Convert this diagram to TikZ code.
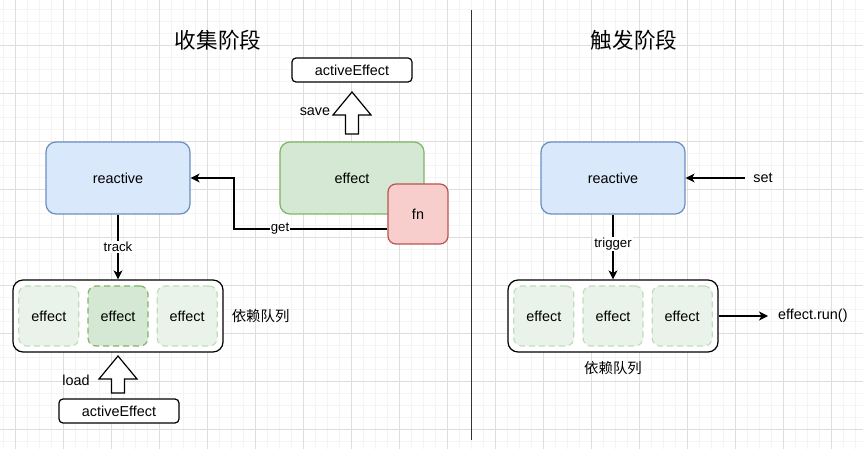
\documentclass[tikz,border=0pt]{standalone}
\usepackage{fontspec}
\setmainfont{Liberation Sans}
\newfontfamily\cjk{Noto Sans CJK SC}
\usetikzlibrary{arrows.meta,positioning,calc}
\definecolor{gridminor}{RGB}{244,244,244}
\definecolor{gridmajor}{RGB}{222,222,222}
\definecolor{reactfill}{HTML}{DAE8FC}
\definecolor{reactline}{HTML}{6C8EBF}
\definecolor{efffill}{HTML}{D5E8D4}
\definecolor{effline}{HTML}{82B366}
\definecolor{fnfill}{HTML}{F8CECC}
\definecolor{fnline}{HTML}{B85450}
\definecolor{depfill}{HTML}{EAF3E9}
\definecolor{depline}{HTML}{C0DDBB}
% hollow block arrow pointing up: x, foot y, tip y
\newcommand{\hollowup}[3]{%
  \draw[hollow] (#1-6.5,#2) -- (#1-6.5,#3+23) -- (#1-19,#3+23) -- (#1,#3)
    -- (#1+19,#3+23) -- (#1+6.5,#3+23) -- (#1+6.5,#2) -- cycle;}

\begin{document}
\begin{tikzpicture}[x=1pt,y=-1pt,
  box/.style={rectangle,rounded corners=10pt,draw,line width=1.2pt,minimum width=144pt,minimum height=72pt,inner sep=0pt,font=\fontsize{14.4}{17}\selectfont},
  react/.style={box,fill=reactfill,draw=reactline},
  eff/.style={box,fill=efffill,draw=effline},
  fnbox/.style={box,fill=fnfill,draw=fnline,minimum width=60pt,minimum height=60pt,rounded corners=8pt},
  queue/.style={box,draw=black,fill=white,minimum width=210pt},
  dep/.style={box,minimum width=60pt,minimum height=60pt,rounded corners=8pt,dash pattern=on 6pt off 4pt,fill=depfill,draw=depline},
  active/.style={box,fill=white,draw=black,minimum width=120pt,minimum height=24pt,rounded corners=4pt},
  txt/.style={inner sep=0pt,font=\fontsize{14.4}{17}\selectfont},
  cjktxt/.style={inner sep=0pt,font=\cjk\fontsize{14.4}{17}\selectfont},
  lbl/.style={fill=white,inner sep=1pt,font=\fontsize{13.2}{15}\selectfont},
  title/.style={inner sep=0pt,font=\cjk\fontsize{21.6}{25}\selectfont},
  arr/.style={line width=1.2pt,-{Stealth[length=9pt,width=9pt,inset=2.5pt]}},
  hollow/.style={line width=1.2pt,fill=white,line join=miter}]
\useasboundingbox (0,0) rectangle (863,449);
% grid
\foreach \gx in {3,15,...,863} \draw[gridminor,line width=0.8pt] (\gx,0) -- (\gx,449);
\foreach \gy in {9,21,...,449} \draw[gridminor,line width=0.8pt] (0,\gy) -- (863,\gy);
\foreach \gx in {15,63,...,863} \draw[gridmajor,line width=0.8pt] (\gx,0) -- (\gx,449);
\foreach \gy in {45,93,...,449} \draw[gridmajor,line width=0.8pt] (0,\gy) -- (863,\gy);
\draw[black!80,line width=1.2pt] (471.5,10) -- (471.5,440);

% collect phase
\node[title] (tCollect) at (218,40) {收集阶段};
\node[active] (saved) at (352,70) {activeEffect};
\node[react] (reactL) at (118,178) {reactive};
\node[eff] (effect) at (352,178) {effect};
\node[fnbox] (fn) at (418,214) {fn};
\node[queue] (queueL) at (118,316) {};
\node[dep,fill=efffill,draw=effline] (depL2) at (118,316) {effect};
\node[dep,left=8pt of depL2] (depL1) {effect};
\node[dep,right=8pt of depL2] (depL3) {effect};
\node[cjktxt,right=8pt of queueL] (queueLabelL) {依赖队列};
\node[active] (loaded) at (119,411) {activeEffect};
\hollowup{352}{134}{92}
\node[txt] (saveLbl) at (315,112) {save};
\hollowup{118}{393}{356}
\node[txt] (loadLbl) at (76,380) {load};
\coordinate (getBend) at (234,178);
\draw[arr] ($(fn.west)+(0,15)$) -| node[lbl,pos=0.35] {get} (getBend) -- (reactL.east);
\draw[arr] (reactL.south) -- node[lbl] {track} (queueL.north);

% trigger phase
\node[title] (tTrigger) at (634,40) {触发阶段};
\node[react] (reactR) at (613,178) {reactive};
\node[txt] (setLbl) at (763,178) {set};
\node[queue] (queueR) at (613,316) {};
\node[dep] (depR2) at (613,316) {effect};
\node[dep,left=8pt of depR2] (depR1) {effect};
\node[dep,right=8pt of depR2] (depR3) {effect};
\node[cjktxt,below=9pt of queueR] (queueLabelR) {依赖队列};
\node[txt,anchor=west] (runLbl) at (778,316) {effect.run()};
\draw[arr] ([xshift=-8pt]setLbl.west) -- (reactR.east);
\draw[arr] (reactR.south) -- node[lbl,pos=0.45] {trigger} (queueR.north);
\draw[arr] (queueR.east) -- ([xshift=-10pt]runLbl.west);
\end{tikzpicture}
\end{document}
